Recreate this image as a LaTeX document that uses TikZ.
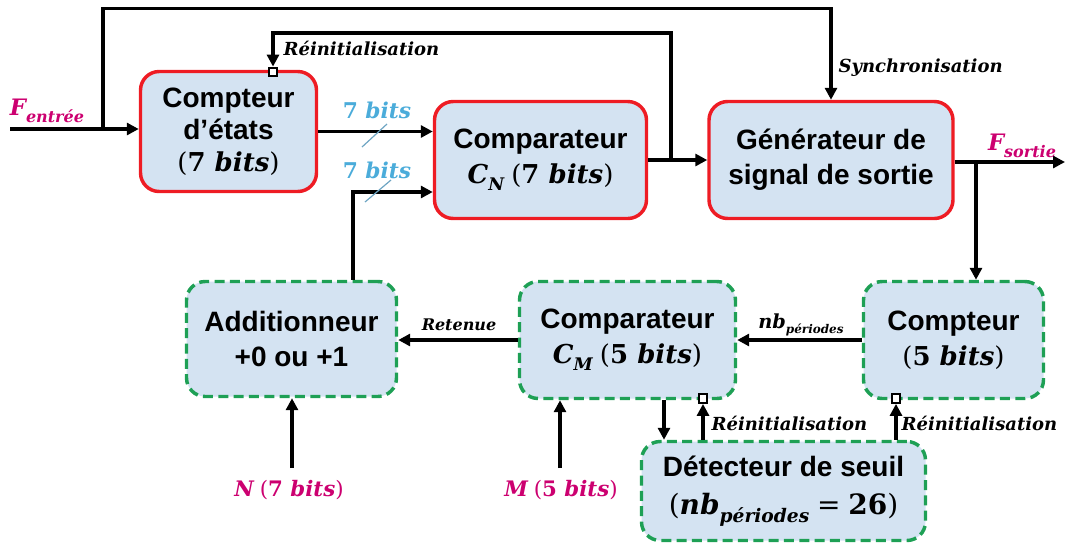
\documentclass[tikz,border=0pt]{standalone}
\usepackage{fontspec}
\usetikzlibrary{arrows.meta}
\setmainfont{Liberation Sans}
\newfontfamily\mf{DejaVu Serif}
\definecolor{boxfill}{RGB}{212,227,242}
\definecolor{boxred}{RGB}{238,28,36}
\definecolor{boxgreen}{RGB}{30,160,85}
\definecolor{lblue}{RGB}{75,172,218}
\definecolor{slashc}{RGB}{110,165,195}
\definecolor{mag}{RGB}{204,0,112}
\newcommand{\bi}[1]{{\mf\bfseries\itshape #1}}
\newcommand{\bu}[1]{{\mf\bfseries\upshape #1}}
\newcommand{\ru}[1]{{\mf\mdseries\upshape #1}}
\newcommand{\lowsub}[2]{\raisebox{-0.28em}{\fontsize{#1}{#1}\selectfont\bi{#2}}}
\newcommand{\mth}[1]{{\fontsize{19.5}{26}\selectfont #1}}
\begin{document}
\begin{tikzpicture}[x=0.75pt,y=-0.75pt,
 blk/.style={rectangle, rounded corners=14pt, fill=boxfill, line width=2.6pt, inner sep=0pt, align=center, font=\bfseries\fontsize{21}{26}\selectfont},
 redblk/.style={blk, draw=boxred},
 grnblk/.style={blk, draw=boxgreen, dash pattern=on 7.5pt off 4pt},
 wire/.style={line width=2.5pt},
 arr/.style={wire, -{Triangle[length=9pt,width=9pt]}},
 sqr/.style={draw, fill=white, line width=1.6pt, minimum size=6.5pt, inner sep=0pt},
 lbl/.style={inner sep=1pt, font=\fontsize{13.5}{16}\selectfont},
 bitlbl/.style={inner sep=0pt, text=lblue, font=\fontsize{16.3}{18}\selectfont},
 maglbl/.style={inner sep=1pt, text=mag, font=\fontsize{16}{18}\selectfont},
 slashln/.style={draw=slashc, line width=0.9pt}
]
\useasboundingbox (0,0) rectangle (1067,544);
% blocks
\node[redblk, minimum width=132pt, minimum height=90pt, font=\bfseries\fontsize{21}{24}\selectfont] (ce) at (228.5,131.5) {Compteur\\d’états\\\mth{\ru{(}\bu{7 }\bi{bits}\ru{)}}};
\node[redblk, minimum width=159pt, minimum height=87.75pt] (cn) at (540.5,160) {Comparateur\\\mth{\bi{C}\lowsub{13}{N} \ru{(}\bu{7 }\bi{bits}\ru{)}}};
\node[redblk, minimum width=183pt, minimum height=87.75pt] (gen) at (831,160) {Générateur de\\signal de sortie};
\node[grnblk, minimum width=157.5pt, minimum height=86.25pt] (add) at (291.5,339) {Additionneur\\+0 ou +1};
\node[grnblk, minimum width=162pt, minimum height=87.75pt] (cm) at (627.5,340) {Comparateur\\\mth{\bi{C}\lowsub{13}{M} \ru{(}\bu{5 }\bi{bits}\ru{)}}};
\node[grnblk, minimum width=135pt, minimum height=87.75pt] (cp5) at (953.5,340) {Compteur\\\mth{\ru{(}\bu{5 }\bi{bits}\ru{)}}};
\node[grnblk, minimum width=213pt, minimum height=74.25pt, font=\bfseries\fontsize{21}{29}\selectfont] (det) at (783.5,491) {Détecteur de seuil\\{\fontsize{21}{29}\selectfont\ru{(}\bi{nb}\lowsub{14}{périodes} \ru{=} \bu{26}\ru{)}}};
% coordinates
\coordinate (fin) at (10,129);
\coordinate (j1) at (103,129);
\coordinate (top) at (103,8.5);
\coordinate (j2) at (671,160);
\coordinate (r1) at (671,33);
\coordinate (a1) at (353,192);
\coordinate (out) at (1065,162);
\coordinate (j3) at (976,162);
\coordinate (n0) at (292,468);
\coordinate (m0) at (560,468);
\coordinate (d1) at (664,420);
% connectors
\draw[arr] (fin) -- (fin -| ce.west);
\draw[arr] (j1) -- (top) -- (top -| gen.north) -- (gen.north);
\draw[arr] (ce.east) -- (ce.east -| cn.west);
\draw[arr] (add.north -| a1) -- (a1) -- (a1 -| cn.west);
\draw[arr] (cn.east) -- (gen.west);
\node[sqr] (s1) at (273,72) {};
\draw[arr] (j2) -- (r1) -- (r1 -| s1) -- (s1.north);
\draw[arr] (gen.east |- out) -- (out);
\draw[arr] (j3) -- (j3 |- cp5.north);
\draw[arr] (cp5.west) -- (cm.east);
\draw[arr] (cm.west) -- (cm.west -| add.east);
\draw[arr] (n0) -- (n0 |- add.south);
\draw[arr] (m0) -- (m0 |- cm.south);
\draw[arr] (cm.south -| d1) -- (det.north -| d1);
\node[sqr] (s2) at (703,398.5) {};
\node[sqr] (s3) at (896,398.5) {};
\draw[arr] (det.north -| s2) -- (s2.south);
\draw[arr] (det.north -| s3) -- (s3.south);
% bus slashes
\draw[slashln] (362,147) -- (387,124);
\draw[slashln] (365,202) -- (391,180);
% labels
\node[lbl, anchor=west] (lr1) at (282,48) {\bi{Réinitialisation}};
\node[lbl, anchor=west] (lsync) at (837,68) {\bi{Synchronisation}};
\node[bitlbl] (b1) at (377,110) {\bu{7 }\bi{bits}};
\node[bitlbl] (b2) at (377,170) {\bu{7 }\bi{bits}};
\node[maglbl, font=\fontsize{17}{20}\selectfont] (fe) at (47,111) {\bi{F}\lowsub{12}{entrée}};
\node[maglbl, font=\fontsize{17}{20}\selectfont] (fs) at (1022,146) {\bi{F}\lowsub{12}{sortie}};
\node[lbl, font=\fontsize{14.5}{16}\selectfont] (nbp) at (801,325) {\bi{nb}\lowsub{9}{périodes}};
\node[lbl, font=\fontsize{12}{14}\selectfont] (ret) at (459,325) {\bi{Retenue}};
\node[maglbl] (nlab) at (289,490) {\bi{N} \ru{(}\bu{7 }\bi{bits}\ru{)}};
\node[maglbl] (mlab) at (561,490) {\bi{M} \ru{(}\bu{5 }\bi{bits}\ru{)}};
\node[lbl, anchor=west] (lr2) at (710,423) {\bi{Réinitialisation}};
\node[lbl, anchor=west] (lr3) at (900,423) {\bi{Réinitialisation}};
\end{tikzpicture}
\end{document}
